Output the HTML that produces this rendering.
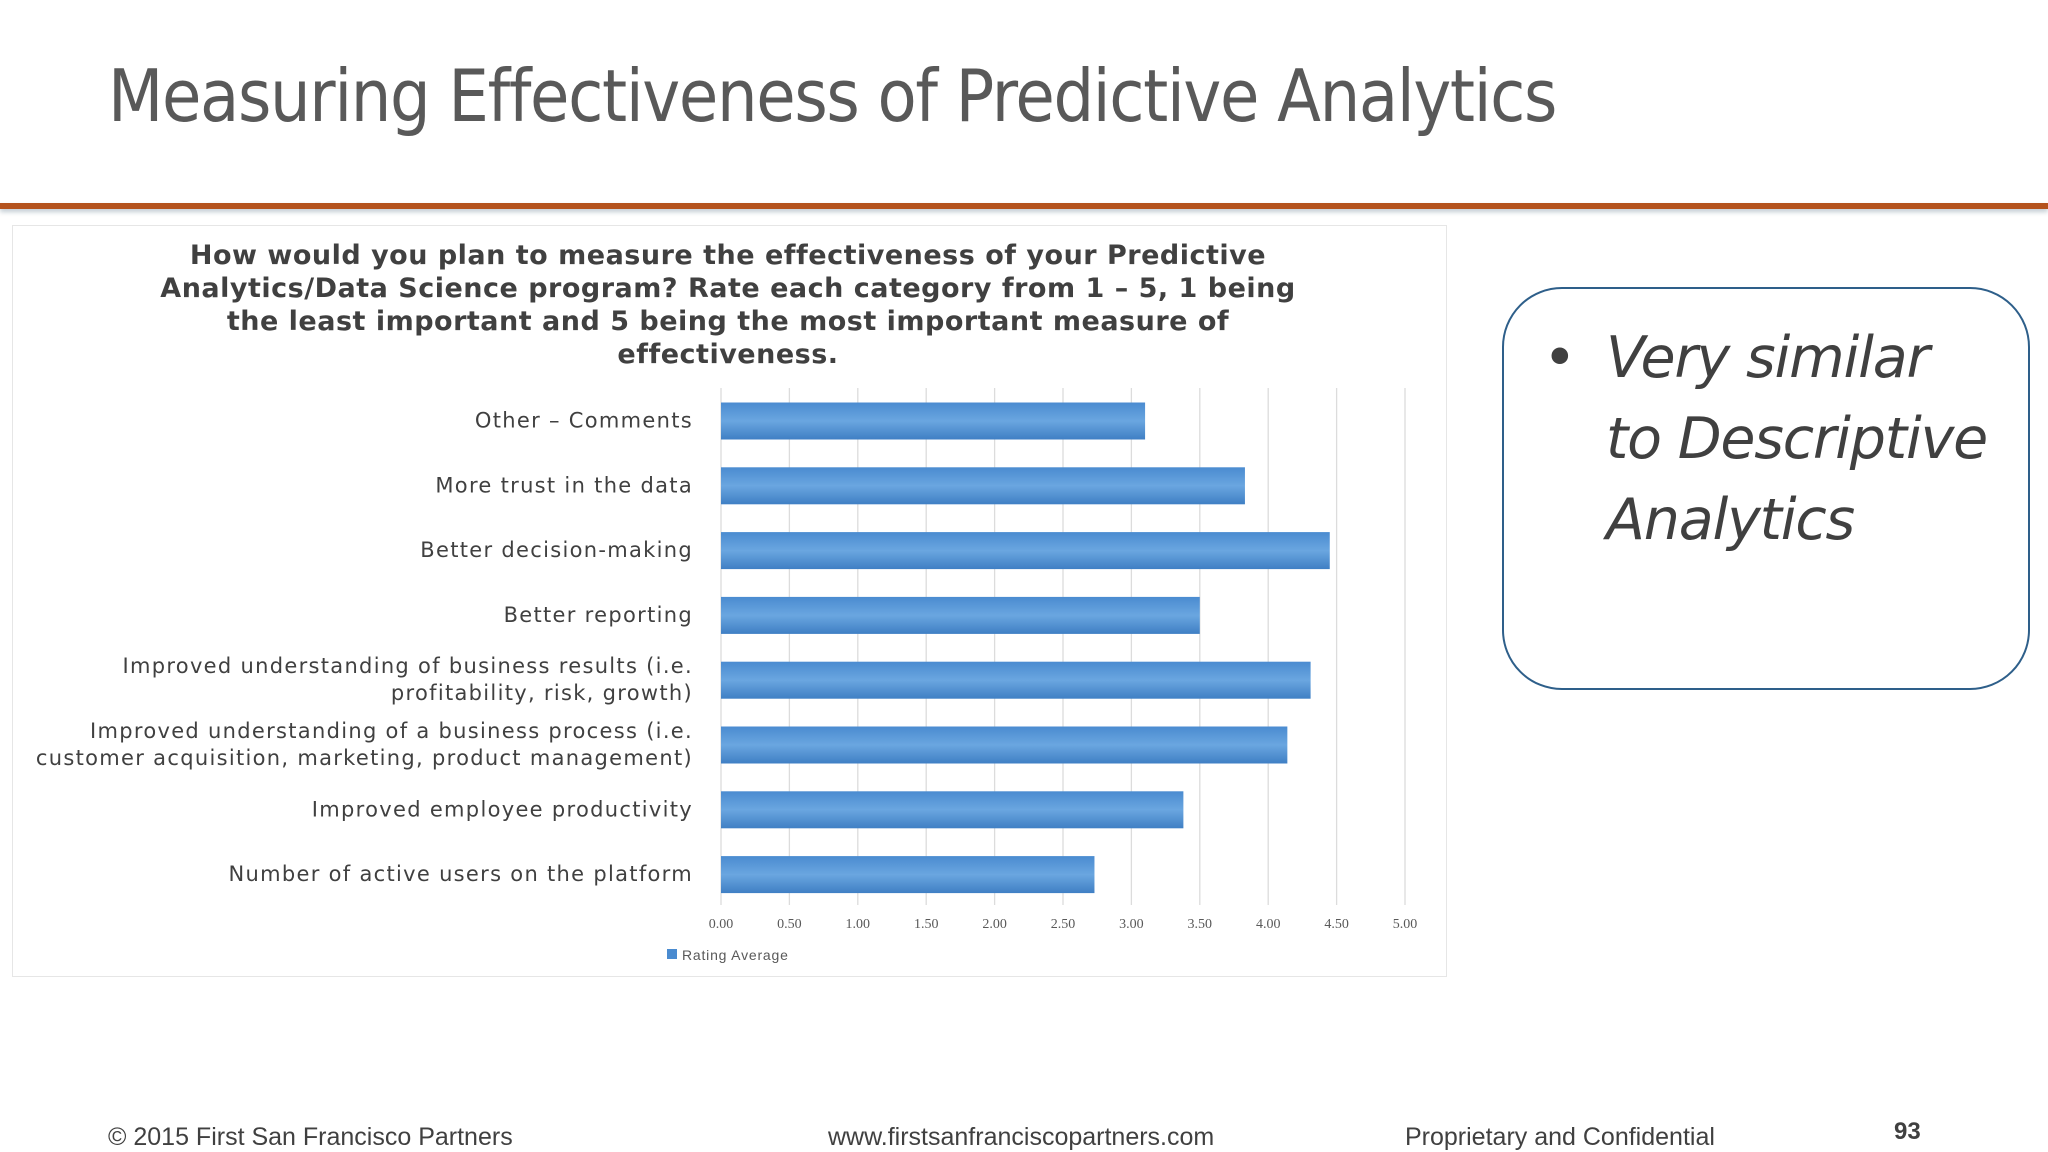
<!DOCTYPE html>
<html><head><meta charset="utf-8"><style>
body{margin:0;width:2048px;height:1152px;background:#fff;position:relative;overflow:hidden;font-family:"Liberation Sans",sans-serif;}
.abs{position:absolute;}
</style></head><body>
<div class="abs" style="left:108px;top:54px;font-size:72px;color:#595959;font-family:'DejaVu Sans','Liberation Sans',sans-serif;letter-spacing:-1.5px;transform:scaleX(0.89);transform-origin:0 0;white-space:nowrap;">Measuring Effectiveness of Predictive Analytics</div>
<div class="abs" style="left:0;top:203px;width:2048px;height:6px;background:#b4531e;box-shadow:0 3px 5px rgba(80,110,130,0.35);"></div>
<div class="abs" style="left:12px;top:225px;width:1433px;height:750px;border:1px solid #e6e6e6;background:#fff;"></div>
<svg class="abs" style="left:0;top:0" width="2048" height="1152">
<defs><linearGradient id="g" x1="0" y1="0" x2="0" y2="1"><stop offset="0" stop-color="#4a8bd0"/><stop offset="0.5" stop-color="#6aa6e0"/><stop offset="1" stop-color="#3f7fc4"/></linearGradient></defs>
<g id="chart"></g>
</svg>
<div class="abs" style="left:1502px;top:287px;width:524px;height:399px;border:2px solid #2e5f8a;border-radius:60px;"></div>
<div class="abs" style="left:1543px;top:318px;font-size:57px;line-height:81px;color:#404040;font-style:italic;font-family:'DejaVu Sans','Liberation Sans',sans-serif;letter-spacing:-1.2px;">
<span style="position:absolute;left:0;font-style:normal;">•</span>
<div style="margin-left:63px;white-space:nowrap;">Very similar<br>to Descriptive<br>Analytics</div></div>
<div class="abs" style="left:108px;top:1123px;font-size:25px;color:#404040;">© 2015 First San Francisco Partners</div>
<div class="abs" style="left:828px;top:1123px;font-size:25px;color:#404040;">www.firstsanfranciscopartners.com</div>
<div class="abs" style="left:1405px;top:1123px;font-size:25px;color:#404040;">Proprietary and Confidential</div>
<div class="abs" style="left:1894px;top:1118px;font-size:24px;font-weight:bold;color:#404040;">93</div>
<script>
const categories=["Other – Comments","More trust in the data","Better decision-making","Better reporting","Improved understanding of business results (i.e.|profitability, risk, growth)","Improved understanding of a business process (i.e.|customer acquisition, marketing, product management)","Improved employee productivity","Number of active users on the platform"];
const values=[3.10,3.83,4.45,3.50,4.31,4.14,3.38,2.73];
const ticks=["0.00","0.50","1.00","1.50","2.00","2.50","3.00","3.50","4.00","4.50","5.00"];
const titleLines=["How would you plan to measure the effectiveness of your Predictive","Analytics/Data Science program? Rate each category from 1 – 5, 1 being","the least important and 5 being the most important measure of","effectiveness."];
const NS="http://www.w3.org/2000/svg";
const g=document.getElementById('chart');
const x=v=>721+v*136.8;
const y=i=>420.5+i*64.8;
function mk(t,a,txt){const e=document.createElementNS(NS,t);for(const k in a)e.setAttribute(k,a[k]);if(txt!==undefined)e.textContent=txt;g.appendChild(e);return e;}
titleLines.forEach((s,i)=>{const e=mk('text',{x:728,y:264+i*33,'text-anchor':'middle','font-size':27,'font-weight':'bold',fill:'#404040','letter-spacing':'0.5','font-family':'DejaVu Sans, Liberation Sans, sans-serif'},s);

});
ticks.forEach((t,i)=>{const v=parseFloat(t);
const l=mk('line',{x1:x(v),x2:x(v),y1:388,y2:905,stroke:'#dcdcdc','stroke-width':1.3});


const e=mk('text',{x:x(v),y:928,'text-anchor':'middle','font-size':14,fill:'#595959','font-family':'Liberation Serif, serif'},t);

});
values.forEach((v,i)=>{const r=mk('rect',{x:x(0),y:y(i)-18,width:x(v)-x(0),height:37,fill:'url(#g)'});


const parts=categories[i].split('|');
parts.forEach((p,j)=>{const e=mk('text',{x:693,y:y(i)+7+(parts.length>1?(j-0.5)*27:0),'text-anchor':'end','font-size':21,'letter-spacing':'1.3',fill:'#404040','font-family':'DejaVu Sans, Liberation Sans, sans-serif'},p);

});});
const lg=mk('rect',{x:667,y:949,width:10,height:10,fill:'#4a8bd0'});


const lt=mk('text',{x:682,y:960,'font-size':14,fill:'#595959','letter-spacing':'0.8'},'Rating Average');


</script>
</body></html>
